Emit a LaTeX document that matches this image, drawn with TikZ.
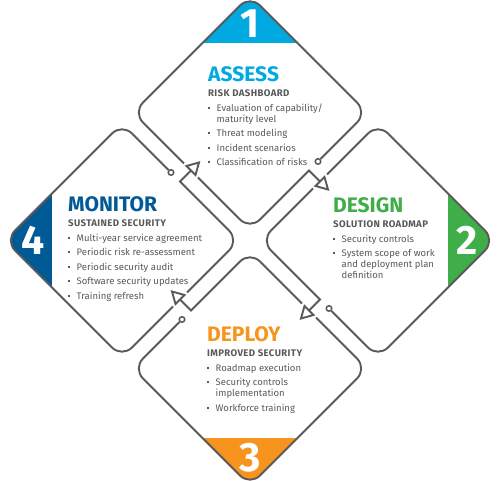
\documentclass[tikz,border=0pt]{standalone}
\usepackage{fontspec}
\setmainfont{Fira Sans}
\definecolor{assessblue}{HTML}{00A9E0}
\definecolor{designgreen}{HTML}{3FAE49}
\definecolor{deployorange}{HTML}{F7941D}
\definecolor{monitorblue}{HTML}{005A96}
\definecolor{linegray}{HTML}{595959}
\definecolor{txtgray}{HTML}{595959}
\newcommand{\blt}{\makebox[8.5pt][l]{\rule[2.4pt]{1.9pt}{1.9pt}}}
\newcommand{\ind}{\hspace*{8.5pt}}
\newcommand{\steptitle}[2]{{\fontsize{21}{21}\selectfont\bfseries\color{#1}#2}}
\newcommand{\stepsub}[1]{{\fontsize{9.6}{9}\selectfont\bfseries\addfontfeatures{LetterSpace=4}#1}}

\begin{document}
\begin{tikzpicture}[x=1pt,y=1pt,
    outline/.style={draw=linegray,line width=1.9pt},
    ring/.style={circle,draw=linegray,line width=1.5pt,inner sep=0pt,minimum size=5.5pt},
    numlabel/.style={text=white,inner sep=0pt,font=\fontsize{41}{41}\selectfont\bfseries},
    blocktext/.style={anchor=north west,inner sep=0pt,align=left,text=txtgray,
      font=\fontsize{9.5}{11}\selectfont}]
  \useasboundingbox (-250,-240.5) rectangle (250,240.5);
  % four rounded diamonds, each with its outgoing arrow
  \foreach \ang/\col/\num/\nm in {0/assessblue/1/assess,-90/designgreen/2/design,
      -180/deployorange/3/deploy,-270/monitorblue/4/monitor}{
    \begin{scope}[rotate=\ang,shift={(0,128)}]
      \begin{scope}
        \clip[rounded corners=14pt] (117,0) -- (0,117) -- (-117,0) -- (0,-117) -- cycle;
        \fill[\col] (-120,69.5) rectangle (120,125);
      \end{scope}
      \node[numlabel] (num\nm) at (0,89) {\num};
      \node[ring] (ring\nm) at (68,-49) {};
      \draw[outline] (ring\nm) [rounded corners=14pt] -- (117,0) -- (0,117) -- (-117,0) -- (-66,-51);
      \draw[outline] (-52,-65) -- (-9.9,-107.1) arc[start angle=225,end angle=315,radius=14]
        -- (59,-58) -- (70,-69);
      \draw[outline,line join=miter] (65.5,-73.5) -- (78,-77) -- (74.5,-64.5) -- cycle;
    \end{scope}
  }
  % texts
  \node[blocktext] (assesstxt) at (-42,174.5) {\steptitle{assessblue}{ASSESS}\\[4.5pt]
    \stepsub{RISK DASHBOARD}\\[3.5pt]
    \blt Evaluation of capability/\\
    \ind maturity level\\[3.5pt]
    \blt Threat modeling\\[3.5pt]
    \blt Incident scenarios\\[3.5pt]
    \blt Classification of risks};
  \node[blocktext] (designtxt) at (83,43.5) {\steptitle{designgreen}{DESIGN}\\[4.5pt]
    \stepsub{SOLUTION ROADMAP}\\[3.5pt]
    \blt Security controls\\[3.5pt]
    \blt System scope of work\\
    \ind and deployment plan\\
    \ind definition};
  \node[blocktext] (deploytxt) at (-43,-85.5) {\steptitle{deployorange}{DEPLOY}\\[4.5pt]
    \stepsub{IMPROVED SECURITY}\\[3.5pt]
    \blt Roadmap execution\\[3.5pt]
    \blt Security controls\\
    \ind implementation\\[3.5pt]
    \blt Workforce training};
  \node[blocktext] (monitortxt) at (-182,44.5) {\steptitle{monitorblue}{MONITOR}\\[4.5pt]
    \stepsub{SUSTAINED SECURITY}\\[3.5pt]
    \blt Multi-year service agreement\\[3.5pt]
    \blt Periodic risk re-assessment\\[3.5pt]
    \blt Periodic security audit\\[3.5pt]
    \blt Software security updates\\[3.5pt]
    \blt Training refresh};
\end{tikzpicture}
\end{document}
